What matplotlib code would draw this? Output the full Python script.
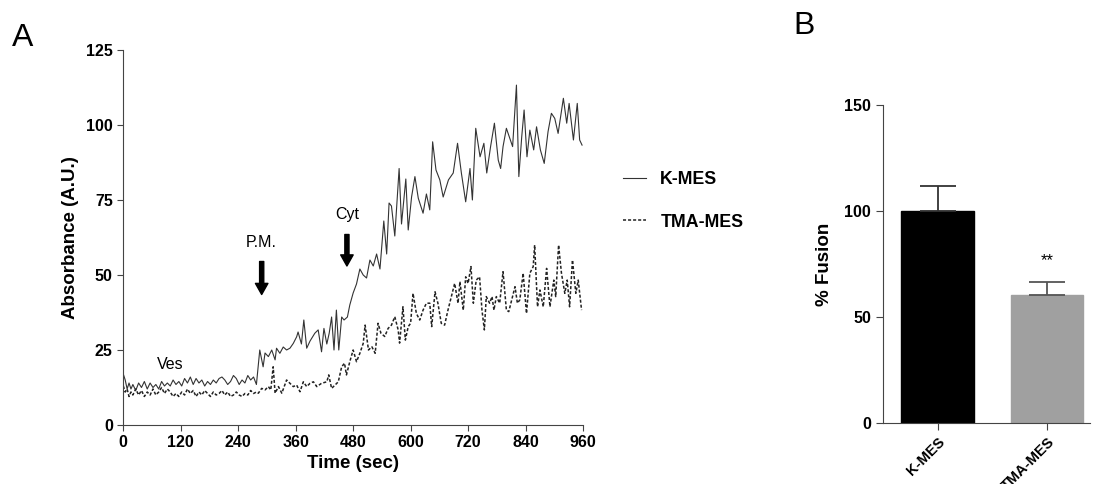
import matplotlib
matplotlib.use("Agg")
import matplotlib.pyplot as plt

plt.rcParams['font.family'] = ['Liberation Sans', 'DejaVu Sans']

# panel A: absorbance traces
k_time = [0, 4, 8, 12, 16, 20, 26, 32, 38, 44, 50, 56, 62, 68, 74, 80, 86, 92, 98, 104,
          110, 116, 122, 128, 134, 140, 146, 152, 158, 164, 170, 176, 182, 188, 194, 200,
          206, 212, 218, 224, 230, 236, 242, 248, 254, 260, 266, 272, 278, 285, 292, 296,
          303, 310, 317, 320, 327, 334, 341, 348, 355, 362, 365, 372, 377, 383, 390, 400,
          407, 414, 419, 425, 430, 435, 440, 445, 450, 456, 461, 468, 473, 480, 487, 494,
          501, 508, 515, 522, 529, 536, 544, 550, 555, 560, 567, 576, 581, 590, 595, 602,
          609, 616, 626, 633, 640, 646, 653, 661, 668, 679, 689, 698, 706, 715, 724, 729,
          736, 745, 753, 759, 767, 775, 783, 788, 793, 800, 807, 813, 821, 826, 832, 837,
          843, 849, 857, 863, 871, 879, 887, 894, 901, 908, 919, 926, 931, 940, 948, 953, 958]
k_vals = [17, 15, 12, 14, 12, 13.5, 11.5, 14, 12.5, 14.5, 12, 14, 12.5, 13.5, 12, 14.5, 13, 14, 13, 15,
          13.5, 14.5, 13, 15.5, 14, 16, 13.5, 15.5, 14, 15, 13, 14.5, 13.5, 15, 14, 15.5,
          16, 15, 13.5, 14.5, 16.5, 15.5, 13.5, 15, 14, 16.5, 15, 16, 13.5, 25, 19.4, 24,
          22.8, 25, 21.7, 25.6, 23.9, 26, 25, 25.6, 27.2, 29.4, 31, 27, 35, 25.6, 28, 30.6,
          31.7, 24.4, 32.2, 27, 30.6, 36, 25, 38.3, 25, 36, 35, 36, 40, 44, 47, 52,
          50, 49, 55, 53, 57, 52, 68, 57, 74, 73, 63, 85.5, 67, 82, 65, 76,
          82.8, 75.6, 70.6, 77, 71.7, 94.4, 85, 81.7, 76, 81.7, 84, 93.9, 84, 74.4, 85.5, 75,
          98.9, 89.4, 93.9, 84, 92.8, 100.6, 88.3, 85.5, 92.8, 98.9, 95.6, 92.8, 113.3, 82.8, 96, 105,
          89.4, 98.3, 91.7, 99.4, 91.7, 87.2, 97.8, 103.9, 102.2, 97.2, 108.9, 100.6, 107.2, 95, 107.2, 95, 93.3]

tma_time = [0, 4, 8, 12, 16, 20, 26, 32, 38, 44, 50, 56, 62, 68, 74, 80, 86, 92, 98, 104,
            110, 116, 122, 128, 134, 140, 146, 152, 158, 164, 170, 176, 182, 188, 194, 200,
            206, 212, 218, 224, 230, 236, 242, 248, 254, 260, 266, 272, 278, 282, 289, 296,
            303, 308, 313, 317, 324, 331, 341, 348, 355, 362, 369, 376, 383, 390, 397, 404,
            414, 425, 429, 435, 442, 449, 456, 462, 466, 473, 480, 487, 494, 501, 505, 512,
            519, 526, 532, 538, 546, 553, 560, 567, 574, 577, 584, 589, 595, 600, 605, 612,
            619, 626, 633, 640, 644, 651, 657, 664, 671, 678, 685, 692, 699, 703, 710, 715,
            720, 726, 731, 737, 744, 749, 754, 758, 765, 770, 774, 779, 786, 793, 800, 805,
            811, 818, 823, 828, 835, 842, 849, 856, 859, 865, 870, 877, 884, 891, 899, 903,
            909, 915, 922, 927, 932, 938, 945, 950, 957]
tma_vals = [13, 11, 12, 9.5, 11, 10, 12, 10, 11.5, 9.5, 11, 10, 12, 10, 11, 12.5, 10.5, 12, 11, 9.5,
            10.5, 9.5, 11, 10, 12, 10.5, 11.5, 9.5, 11, 10, 11.5, 10.5, 9.5, 11, 10, 10.5,
            11.5, 10, 11, 9.5, 10, 11, 10, 9.5, 10.5, 10, 11.5, 10.5, 11, 10.6, 12.2, 11.7,
            12.8, 11.7, 19.4, 10.6, 12.8, 10.6, 15, 13.9, 12.8, 13.3, 11.1, 14.4, 12.8, 13.9, 14.4, 12.8,
            13.9, 14.4, 16.7, 12.2, 13.3, 14.4, 19.4, 20.6, 16.7, 21.1, 25, 21.1, 23.9, 27.2, 33.3, 25,
            26.1, 23.9, 33.9, 30.6, 29.5, 32.2, 33.3, 36.1, 31.7, 27.3, 39.4, 28.3, 32.8, 33.9, 43.9, 37.2,
            35, 38.3, 40.6, 40.6, 32.8, 44.4, 40.6, 33.9, 33.3, 38.3, 42.8, 47.2, 40.6, 47.8, 38.3, 49.4,
            47.2, 52.8, 40.6, 48.3, 49.4, 38.3, 31.7, 42.8, 40.6, 42.8, 38.3, 42.8, 40.6, 51.1, 38.3, 37.8,
            41.7, 46.1, 40.6, 41.7, 50.6, 37.2, 50.6, 52.8, 60, 39.4, 45, 39.4, 52.2, 39.4, 48.3, 42.8,
            60, 50.6, 43.9, 48.3, 39.4, 55, 43.9, 48.3, 38.3]

# panel B: % fusion bars
groups = ["K-MES", "TMA-MES"]
fusion = [100, 60.4]
fusion_err = [12, 6]

fig = plt.figure(figsize=(10.93, 4.84), dpi=100)

axA = fig.add_axes([0.1128, 0.1219, 0.4206, 0.7748])
axA.plot(k_time, k_vals, color="#333333", lw=0.8, label="K-MES")
axA.plot(tma_time, tma_vals, color="#222222", lw=1.1, ls=(0, (2, 1.3)), label="TMA-MES")
axA.set_xlim(0, 960)
axA.set_ylim(0, 125)
axA.set_xticks(range(0, 961, 120))
axA.set_yticks(range(0, 126, 25))
axA.set_xlabel("Time (sec)", fontsize=13.5, fontweight="bold", labelpad=3)
axA.set_ylabel("Absorbance (A.U.)", fontsize=13.5, fontweight="bold", labelpad=5)
for sp in ["top", "right"]:
    axA.spines[sp].set_visible(False)
for sp in ["left", "bottom"]:
    axA.spines[sp].set_color("#444444")
axA.tick_params(direction="out", length=4, color="#444444", labelsize=11.5)
for lab in axA.get_xticklabels() + axA.get_yticklabels():
    lab.set_fontweight("bold")

axA.text(98, 20.3, "Ves", fontsize=11.5, ha="center", va="center")
axA.text(289, 60.7, "P.M.", fontsize=11.5, ha="center", va="center")
axA.text(467, 70, "Cyt", fontsize=11.5, ha="center", va="center")
arrow = dict(facecolor="black", edgecolor="black", width=3, headwidth=9, headlength=8)
axA.annotate("", xy=(289, 43.5), xytext=(289, 54.5), arrowprops=arrow)
axA.annotate("", xy=(467, 53), xytext=(467, 63.5), arrowprops=arrow)

axA.legend(loc="upper left", bbox_to_anchor=(0.570, 0.647), bbox_transform=fig.transFigure,
           frameon=False, borderpad=0, borderaxespad=0, handlelength=1.3, handletextpad=0.8,
           labelspacing=1.45, prop={"weight": "bold", "size": 12.8})

fig.text(0.011, 0.905, "A", fontsize=23)
fig.text(0.726, 0.93, "B", fontsize=23)

axB = fig.add_axes([0.8079, 0.126, 0.1891, 0.657])
xs = range(len(groups))
axB.bar(xs, fusion, width=0.666, color=["black", "#a0a0a0"], edgecolor=["black", "#a0a0a0"])
axB.errorbar([0], [fusion[0]], yerr=[[0], [fusion_err[0]]], fmt="none", ecolor="#333333",
             elinewidth=1.3, capsize=13, capthick=1.3)
axB.errorbar([1], [fusion[1]], yerr=[[0], [fusion_err[1]]], fmt="none", ecolor="#555555",
             elinewidth=1.3, capsize=13, capthick=1.3)
axB.text(1, 76.4, "**", fontsize=12, ha="center", va="center")
axB.set_xlim(-0.499, 1.39)
axB.set_ylim(0, 150)
axB.set_yticks([0, 50, 100, 150])
axB.set_xticks(list(xs))
axB.set_xticklabels(groups, rotation=45, ha="right", rotation_mode="anchor")
axB.set_ylabel("% Fusion", fontsize=13.5, fontweight="bold", labelpad=8)
for sp in ["top", "right"]:
    axB.spines[sp].set_visible(False)
for sp in ["left", "bottom"]:
    axB.spines[sp].set_color("#444444")
axB.tick_params(direction="out", length=5, color="#444444", labelsize=11.5)
axB.tick_params(axis="x", labelsize=10.5)
for lab in axB.get_xticklabels() + axB.get_yticklabels():
    lab.set_fontweight("bold")

fig.savefig("out.png", dpi=100)
